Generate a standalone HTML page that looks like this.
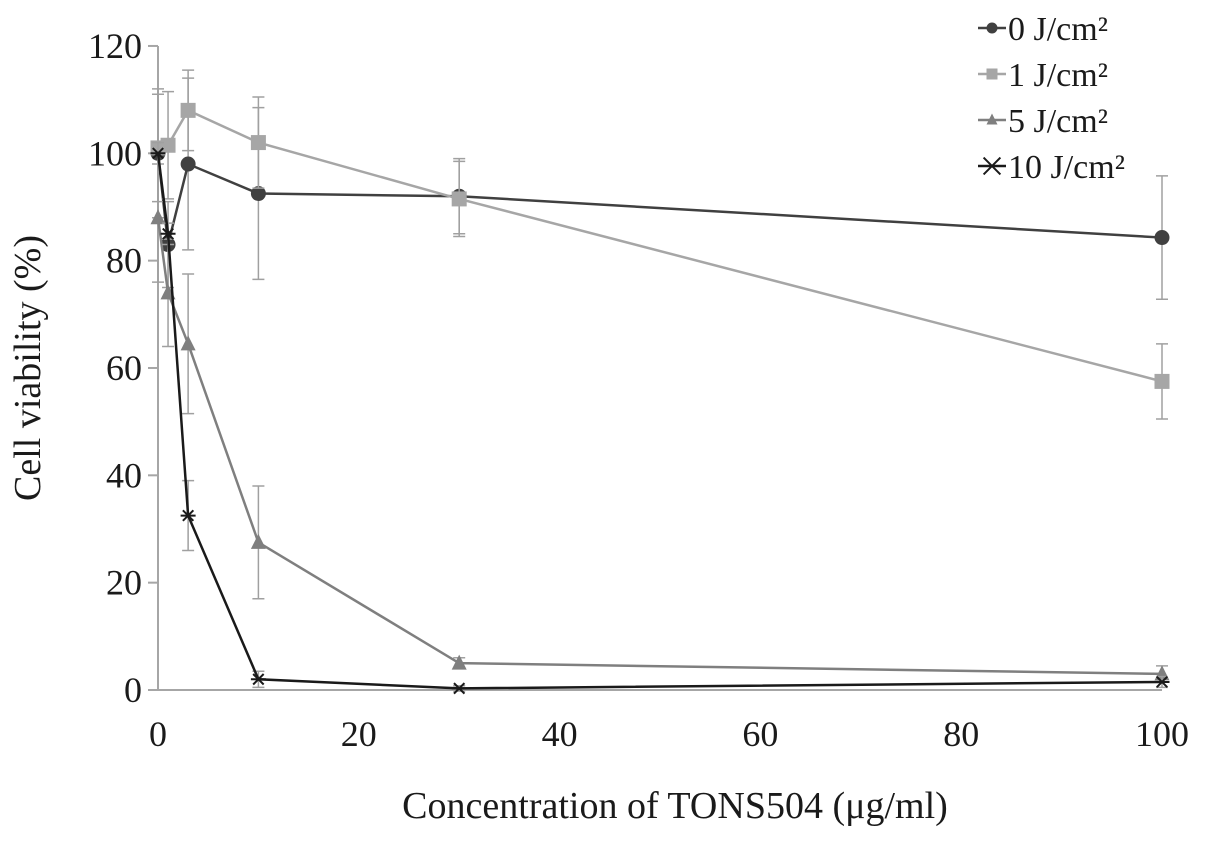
<!DOCTYPE html>
<html><head><meta charset="utf-8"><style>
body{margin:0;background:#fff;}
svg text{font-family:"Liberation Serif",serif;fill:#1a1a1a;}
</style></head><body>
<svg id="chart" width="1205" height="841" viewBox="0 0 1205 841" xmlns="http://www.w3.org/2000/svg">
<g id="axes"></g>
<g id="marks"></g>
<g id="legend"></g>
<text transform="translate(40,368) rotate(-90)" text-anchor="middle" font-size="38">Cell viability (%)</text>
<text x="675" y="818" text-anchor="middle" font-size="38">Concentration of TONS504 (μg/ml)</text>
</svg>
<script>
const categories=[0,1,3,10,30,100];
const seriesNames=["0 J/cm²","1 J/cm²","5 J/cm²","10 J/cm²"];
const s0=[100,83,98,92.5,92,84.3];
const s1=[101,101.5,108,102,91.5,57.5];
const s5=[88,74,64.5,27.5,5,3];
const s10=[100,85,32.5,2,0.3,1.5];
const e0=[12,8,16,16,7,11.5];
const e1=[10,10,7.5,8.5,7,7];
const e5=[12,10,13,10.5,1,1.5];
const e10=[2,2,6.5,1.5,0.5,1];
const xTicks=[0,20,40,60,80,100];
const yTicks=[0,20,40,60,80,100,120];
const NS="http://www.w3.org/2000/svg";
const X=v=>158+v*10.04, Y=v=>690-v*5.367;
function mk(tag,attrs,parent){const e=document.createElementNS(NS,tag);for(const k in attrs)e.setAttribute(k,attrs[k]);parent.appendChild(e);return e;}
const axes=document.getElementById('axes'),marks=document.getElementById('marks'),leg=document.getElementById('legend');
let a=mk('line',{x1:X(0),y1:Y(0),x2:X(100),y2:Y(0),stroke:'#a6a6a6','stroke-width':2},axes);

a=mk('line',{x1:X(0),y1:Y(0),x2:X(0),y2:Y(120),stroke:'#a6a6a6','stroke-width':2},axes);

yTicks.forEach(t=>{const l=mk('line',{x1:X(0)-10,y1:Y(t),x2:X(0),y2:Y(t),stroke:'#a6a6a6','stroke-width':2},axes);

const tx=mk('text',{x:X(0)-16,y:Y(t)+12,'text-anchor':'end','font-size':36},axes);tx.textContent=t;
});
xTicks.forEach(t=>{const tx=mk('text',{x:X(t),y:Y(0)+56,'text-anchor':'middle','font-size':36},axes);tx.textContent=t;
});
const series=[{v:s0,e:e0,c:'#404040',m:'circle'},{v:s1,e:e1,c:'#a6a6a6',m:'square'},{v:s5,e:e5,c:'#7f7f7f',m:'tri'},{v:s10,e:e10,c:'#1a1a1a',m:'star'}];
function marker(g,m,x,y,c,r){
 if(m==='circle'){return mk('circle',{cx:x,cy:y,r:r,fill:c},g);}
 if(m==='square'){return mk('rect',{x:x-r,y:y-r,width:2*r,height:2*r,fill:c},g);}
 if(m==='tri'){return mk('polygon',{points:`${x},${y-r-1} ${x-r},${y+r-1} ${x+r},${y+r-1}`,fill:c},g);}
 const p=mk('path',{d:`M${x-r} ${y}H${x+r}M${x-r*0.7} ${y-r*0.7}L${x+r*0.7} ${y+r*0.7}M${x-r*0.7} ${y+r*0.7}L${x+r*0.7} ${y-r*0.7}`,stroke:c,'stroke-width':2,fill:'none'},g);return p;}
series.forEach((s,i)=>{
 const g=mk('g',{},marks);
 s.v.forEach((v,j)=>{const x=X(categories[j]);const eb=mk('path',{d:`M${x} ${Y(v+s.e[j])}V${Y(v-s.e[j])}M${x-6} ${Y(v+s.e[j])}h12M${x-6} ${Y(v-s.e[j])}h12`,stroke:'#a0a0a0','stroke-width':1.5,fill:'none'},g);
 });
 const ln=mk('polyline',{points:s.v.map((v,j)=>X(categories[j])+','+Y(v)).join(' '),fill:'none',stroke:s.c,'stroke-width':2.5},g);
 
 s.v.forEach((v,j)=>{const mm=marker(g,s.m,X(categories[j]),Y(v),s.c,7.5);
 });
});
seriesNames.forEach((n,i)=>{const y=28+i*46;const s=series[i];
 const g=mk('g',{},leg);
 mk('line',{x1:978,y1:y,x2:1006,y2:y,stroke:s.c,'stroke-width':2.5},g);
 marker(g,s.m,992,y,s.c,s.m==='star'?12:5.5);
 const t=mk('text',{x:1008,y:y+12,'font-size':34},g);t.textContent=n;});
</script>
</body></html>
